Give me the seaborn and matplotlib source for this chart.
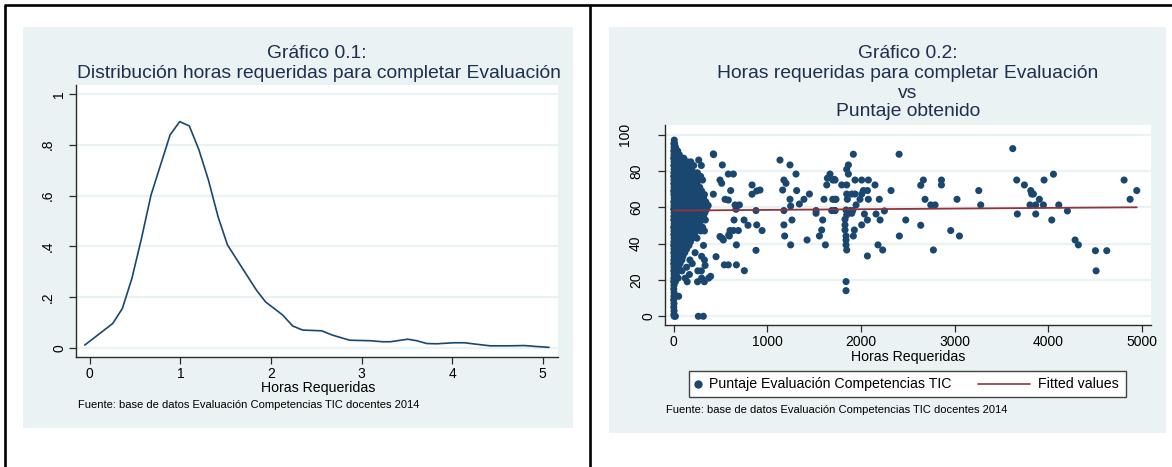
import numpy as np
import pandas as pd
import matplotlib
matplotlib.use("Agg")
import matplotlib.pyplot as plt
import matplotlib.transforms as mtransforms
from matplotlib.patches import Rectangle
from matplotlib.lines import Line2D
import seaborn as sns

# ---------------- data ----------------
# Gráfico 0.1: kernel density of hours
kd_hours = [-0.055, 0.254, 0.36, 0.465, 0.57, 0.676, 0.887, 0.993, 1.099, 1.205, 1.31,
            1.416, 1.52, 1.71, 1.84, 1.94, 2.13, 2.24, 2.35, 2.56, 2.68, 2.87, 3.1,
            3.23, 3.32, 3.51, 3.61, 3.72, 3.83, 4.02, 4.14, 4.25, 4.42, 4.63, 4.80,
            4.92, 5.07]
kd_density = [0.012, 0.097, 0.156, 0.274, 0.43, 0.602, 0.839, 0.891, 0.874, 0.78, 0.661,
              0.517, 0.406, 0.30, 0.228, 0.182, 0.13, 0.087, 0.071, 0.068, 0.051, 0.031,
              0.029, 0.025, 0.025, 0.035, 0.029, 0.018, 0.017, 0.021, 0.021, 0.016,
              0.009, 0.009, 0.010, 0.0066, 0.003]

# Gráfico 0.2: dense cluster near zero hours (score -> hours)
cluster_by_score = {
    97: [8], 95: [4, 12], 93: [6, 22], 91: [3, 18, 45], 89: [5, 30, 62],
    87: [2, 25, 70, 110], 85: [6, 48, 95, 150, 185],
    83: [3, 40, 85, 130, 175, 215], 81: [7, 55, 100, 140, 190],
    79: [4, 35, 80, 125, 170, 220, 255], 77: [2, 50, 95, 145, 195, 240, 290],
    75: [5, 40, 85, 130, 175, 225, 270, 310], 73: [3, 60, 110, 160, 205, 250],
    71: [6, 45, 90, 140, 185, 230, 280], 69: [2, 35, 80, 125, 170, 215, 265, 300],
    67: [4, 55, 100, 150, 195, 245, 290, 330], 65: [7, 40, 85, 135, 180, 225, 275, 320],
    63: [3, 60, 110, 155, 200, 250, 300, 345],
    61: [5, 45, 90, 140, 185, 230, 280, 330, 370],
    59: [2, 35, 80, 125, 170, 215, 265, 310, 355],
    57: [6, 55, 100, 150, 195, 245, 290, 335], 55: [4, 40, 85, 130, 175, 225, 270, 320],
    53: [3, 60, 110, 155, 200, 250, 300, 340], 51: [7, 45, 90, 140, 185, 230, 280],
    49: [2, 35, 80, 125, 170, 215, 265, 310], 47: [5, 55, 100, 150, 195, 240, 290, 330],
    45: [3, 40, 85, 130, 175, 225], 43: [6, 60, 110, 155, 200, 250],
    41: [4, 45, 90, 135, 180], 39: [2, 35, 80, 125, 165, 320], 37: [5, 55, 100, 140],
    35: [3, 40, 85, 120, 230], 33: [6, 60, 100, 300], 31: [4, 45, 90, 175, 330],
    29: [2, 35, 70, 200], 27: [5, 55, 140], 25: [3, 40, 90, 260, 297],
    23: [6, 30, 170], 21: [4, 50, 125, 300, 375], 19: [2, 20, 146, 257, 329],
    17: [5], 15: [3], 13: [6], 11: [4, 55], 9: [2], 7: [5], 5: [3], 3: [6], 1: [4],
    0: [8, 20, 265, 318],
}

# Gráfico 0.2: scattered observations (hours, score)
sparse_hours = [425, 1136, 1243, 521, 1307, 585, 639, 496, 514, 1178, 1200, 838, 923, 888,
                838, 610, 425, 1165, 1314, 1450, 1392, 1343, 1243, 1250, 550, 585, 657,
                703, 667, 880, 1178, 1521, 1521, 646, 753, 795, 888, 945, 1178, 1264, 603,
                639, 692, 496, 532, 596, 1186, 1425, 671, 1250, 880, 454, 542, 585, 671,
                756, 518, 589, 269, 297, 428, 337, 396,
                1919, 2407, 1866, 1848, 1866, 1670, 1642, 1699, 1724, 1635, 1795, 1848,
                1937, 2008, 2079, 2150, 2321, 2026, 2069, 2008, 1848, 1902, 1937, 1606,
                1699, 1724, 1855, 1990, 2079, 2196, 1948, 1688, 1724, 1841, 1884, 1912,
                2250, 1848, 1902, 2037, 2161, 1592, 1830, 2069, 2204, 2478, 1830, 2008,
                2638, 1581, 1830, 1930, 2958, 1841, 1919, 2410, 3051, 1841, 1621, 1841,
                2182, 1848, 2232, 2773, 2069, 1841, 1841, 2638, 2666, 2859, 2859, 2684,
                2745, 2791, 3025, 3257, 3278, 1557, 1716, 1734, 1721,
                3620, 3662, 3669, 3744, 3812, 3822, 3840, 3804, 3865, 3904, 3947, 3954,
                4054, 3865, 4111, 4036, 4203, 4285, 4320, 4502, 4623, 4509, 4808, 4872,
                4943]
sparse_scores = [89.4, 86, 83.3, 83.3, 78.3, 78.3, 78.3, 75, 73.2, 75, 73.2, 72.3, 69.5, 69,
                 67.2, 69.2, 67.2, 69.5, 69.2, 67.3, 64.4, 61.8, 64.4, 60.7, 64.4, 64, 61.3,
                 61.3, 58.9, 58.2, 58.2, 58.2, 56.7, 53, 53, 50.1, 50.3, 47.2, 50.3, 53, 47.2,
                 47.2, 47.2, 43.9, 42, 44.2, 44.2, 42, 39.3, 39.3, 36.3, 32.8, 28.3, 28.3, 28.3,
                 25.1, 43, 44.8, 86, 83, 89, 28, 22,
                 89.2, 89.2, 83.3, 80.9, 78.3, 78.3, 76, 75, 75, 72.3, 72.3, 72.3,
                 75, 75, 75, 72.3, 69.2, 69.2, 69.2, 67.3, 67.3, 67.3, 67.3, 64.4,
                 64.4, 64.4, 64.4, 64.4, 64.4, 64.4, 61.3, 58.2, 58.2, 58.5, 58.2, 58.2,
                 58, 55.8, 56.7, 56.3, 56.3, 53, 53.4, 53, 53, 53, 50.3, 50.3,
                 50.1, 47.5, 47.5, 47.5, 47.2, 44.2, 44.2, 44.2, 44.2, 42, 39.3, 39.3,
                 39.3, 36.5, 36.5, 36.5, 33.2, 19.1, 14.1, 72.1, 75, 75, 72.3, 64.4,
                 61.3, 61.3, 64.4, 69.2, 61.3, 44.2, 75.4, 64.4, 58.2,
                 92.3, 75, 56.3, 72.3, 69.2, 67.3, 67.3, 61.3, 61.3, 64.4, 61.3, 75,
                 78.2, 56.3, 61.3, 53, 58, 42, 39.3, 36.1, 36.1, 25, 75, 64.4,
                 69.2]

# Fitted values (linear fit shown in the chart)
fit_hours = [0, 4943]
fit_scores = [58.2, 60.0]

x1_ticks = [0, 1, 2, 3, 4, 5]
y1_ticks = [0, 0.2, 0.4, 0.6, 0.8, 1.0]
y1_labels = ["0", ".2", ".4", ".6", ".8", "1"]
x2_ticks = [0, 1000, 2000, 3000, 4000, 5000]
y2_ticks = [0, 20, 40, 60, 80, 100]
y2_labels = ["0", "20", "40", "60", "80", "100"]

title1 = ["Gráfico 0.1:", "Distribución horas requeridas para completar Evaluación"]
title2 = ["Gráfico 0.2:", "Horas requeridas para completar Evaluación", "vs", "Puntaje obtenido"]
xlabel = "Horas Requeridas"
note = "Fuente: base de datos Evaluación Competencias TIC docentes 2014"
legend_labels = ["Puntaje Evaluación Competencias TIC", "Fitted values"]

# ---------------- build frames ----------------
kd_df = pd.DataFrame({"hours": kd_hours, "density": kd_density})
c_h, c_s = [], []
for sc, hrs in cluster_by_score.items():
    for h in hrs:
        c_h.append(h)
        c_s.append(sc)
sc_df = pd.DataFrame({"hours": c_h + sparse_hours, "score": c_s + sparse_scores})
fit_df = pd.DataFrame({"hours": fit_hours, "score": fit_scores})

# ---------------- style ----------------
sns.set_style("white")
plt.rcParams["font.family"] = ["Liberation Sans", "DejaVu Sans"]

W, H = 1172, 467
fig = plt.figure(figsize=(W / 100, H / 100), dpi=100)
fig.patch.set_facecolor("white")

def fx(px):
    return px / W

def fy(py):
    return 1 - py / H

BG = "#EAF2F3"
NAVY = "#1A476F"
MAROON = "#90353B"
TITLE_C = "#1E2F50"
AXIS_C = "#2b2b2b"
TITLE_FS = 13.9
LABEL_FS = 10.2
TICK_FS = 10.0
NOTE_FS = 8.0

# panel backgrounds (behind the axes)
fig.patches.append(Rectangle((fx(22.5), fy(427.5)), (573 - 22.5) / W, (427.5 - 27) / H,
                             transform=fig.transFigure, facecolor=BG, edgecolor="none", zorder=-2))
fig.patches.append(Rectangle((fx(609), fy(433)), (1166 - 609) / W, (433 - 27) / H,
                             transform=fig.transFigure, facecolor=BG, edgecolor="none", zorder=-2))

# table borders
for (xa, ya, xb, yb) in [(3.5, 5, W, 5), (4.5, 5, 4.5, H), (590, 5, 590, H)]:
    fig.add_artist(Line2D([fx(xa), fx(xb)], [fy(ya), fy(yb)], transform=fig.transFigure,
                          color="black", lw=1.9, solid_capstyle="butt", zorder=5))

def style_axes(ax, yticks, ylabels, label_px, spine_px, width_px):
    ax.set_facecolor("white")
    for s in ["top", "right"]:
        ax.spines[s].set_visible(False)
    for s in ["left", "bottom"]:
        ax.spines[s].set_color(AXIS_C)
        ax.spines[s].set_linewidth(1.0)
    ax.tick_params(axis="both", which="major", direction="out", length=5, width=0.9,
                   color=AXIS_C, labelsize=TICK_FS, labelcolor="black", pad=2.5,
                   left=True, bottom=True)
    ax.set_yticks(yticks)
    ax.tick_params(axis="y", labelleft=False)
    ax.yaxis.grid(True, color=BG, lw=1.6)
    ax.xaxis.grid(False)
    ax.set_axisbelow(True)
    # rotated y labels placed like Stata does (shifted by label length)
    trans = mtransforms.blended_transform_factory(ax.transAxes, ax.transData)
    for val, lab, px in zip(yticks, ylabels, label_px):
        ax.text((px - spine_px) / width_px, val, lab, transform=trans, rotation=90,
                ha="center", va="center", fontsize=TICK_FS, color="black", clip_on=False)

# ---------- left chart ----------
L1, R1 = 76, 558
ax1 = fig.add_axes([fx(L1), fy(357), (R1 - L1) / W, (357 - 85) / H])
sns.lineplot(data=kd_df, x="hours", y="density", ax=ax1, color=NAVY, lw=1.2)
ax1.set_xlim(-0.152, 5.169)
ax1.set_ylim(-0.035, 1.035)
ax1.set_xticks(x1_ticks)
ax1.set_xticklabels([str(t) for t in x1_ticks])
ax1.set_xlabel("")
ax1.set_ylabel("")
style_axes(ax1, y1_ticks, y1_labels, [59.5, 48, 48, 48, 48, 59.5], L1, R1 - L1)

fig.text(fx(317), fy(53), title1[0], ha="center", va="center", fontsize=TITLE_FS, color=TITLE_C)
fig.text(fx(319), fy(73), title1[1], ha="center", va="center", fontsize=TITLE_FS, color=TITLE_C)
fig.text(fx(318), fy(388), xlabel, ha="center", va="center", fontsize=LABEL_FS, color="black")
fig.text(fx(78), fy(405), note, ha="left", va="center", fontsize=NOTE_FS, color="black")

# ---------- right chart ----------
L2, R2 = 664.6, 1151
ax2 = fig.add_axes([fx(L2), fy(325), (R2 - L2) / W, (325 - 125) / H])
sns.scatterplot(data=sc_df, x="hours", y="score", ax=ax2, color=NAVY, s=26,
                linewidth=0, edgecolor="none", zorder=3)
sns.lineplot(data=fit_df, x="hours", y="score", ax=ax2, color=MAROON, lw=1.3, zorder=4)
ax2.set_xlim(-95, 5095)
ax2.set_ylim(-4.8, 105.3)
ax2.set_xticks(x2_ticks)
ax2.set_xticklabels([str(t) for t in x2_ticks])
ax2.set_xlabel("")
ax2.set_ylabel("")
style_axes(ax2, y2_ticks, y2_labels, [648.5, 636, 636, 636, 636, 625], L2, R2 - L2)

for txt, yy in zip(title2, [53, 73, 94, 112]):
    fig.text(fx(908), fy(yy), txt, ha="center", va="center", fontsize=TITLE_FS, color=TITLE_C)
fig.text(fx(908), fy(357), xlabel, ha="center", va="center", fontsize=LABEL_FS, color="black")
fig.text(fx(666), fy(410), note, ha="left", va="center", fontsize=NOTE_FS, color="black")

# legend (drawn as a boxed key under the right chart)
fig.patches.append(Rectangle((fx(689), fy(397)), (1126 - 689) / W, (397 - 371) / H,
                             transform=fig.transFigure, facecolor="white",
                             edgecolor="#444444", lw=1.0, zorder=2))
fig.add_artist(Line2D([fx(698)], [fy(384)], transform=fig.transFigure, marker="o",
                      markersize=5, color=NAVY, linestyle="none", zorder=4))
fig.text(fx(709), fy(384), legend_labels[0], ha="left", va="center", fontsize=LABEL_FS,
         color="black", zorder=4)
fig.add_artist(Line2D([fx(978), fx(1030)], [fy(384), fy(384)], transform=fig.transFigure,
                      color=MAROON, lw=1.2, zorder=4))
fig.text(fx(1038), fy(384), legend_labels[1], ha="left", va="center", fontsize=LABEL_FS,
         color="black", zorder=4)

fig.savefig("out.png", dpi=100, facecolor="white")
